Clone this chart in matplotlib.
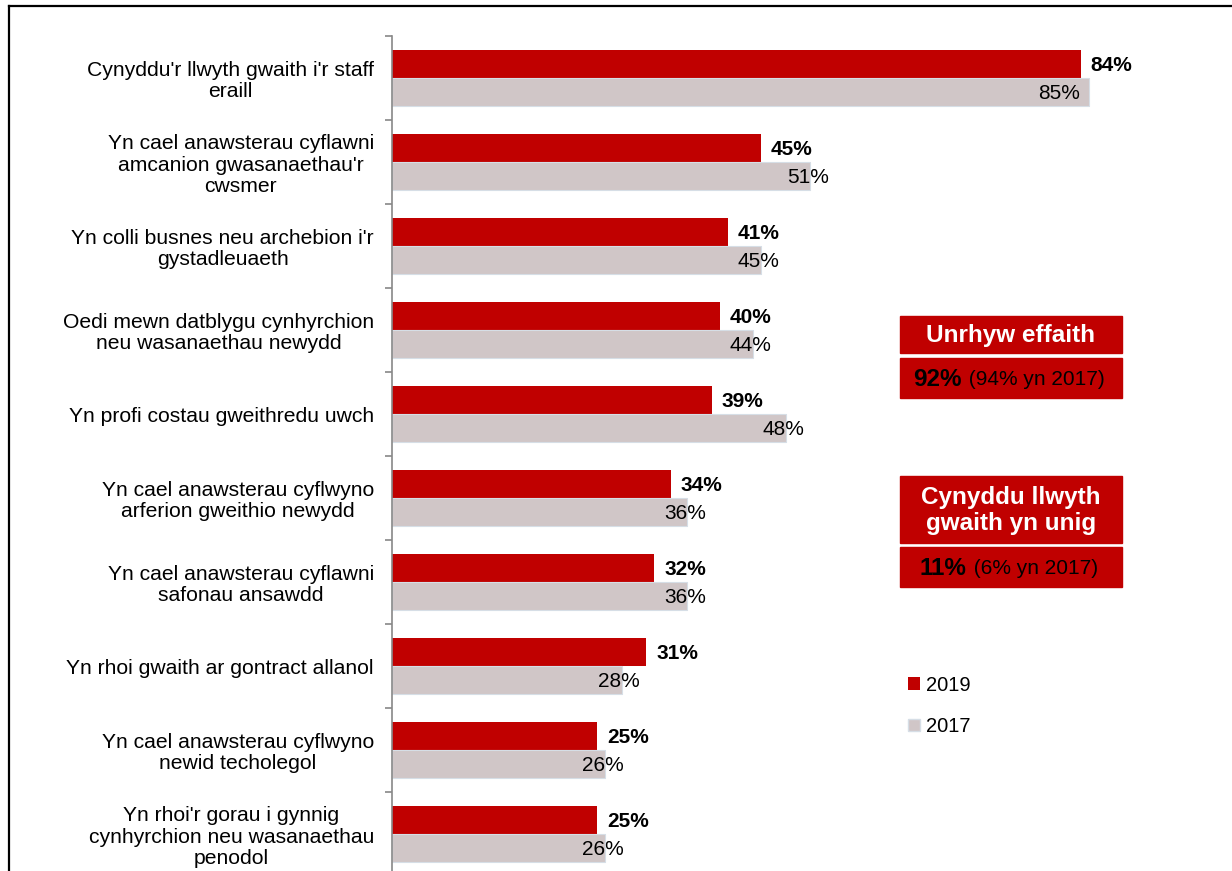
import matplotlib
matplotlib.use('Agg')
import matplotlib.pyplot as plt
from matplotlib.patches import Rectangle, Patch
from matplotlib.lines import Line2D

plt.rcParams['font.family'] = ['Liberation Sans', 'DejaVu Sans']

categories = [
    "Cynyddu'r llwyth gwaith i'r staff\neraill",
    "Yn cael anawsterau cyflawni\namcanion gwasanaethau'r\ncwsmer",
    "Yn colli busnes neu archebion i'r\ngystadleuaeth",
    "Oedi mewn datblygu cynhyrchion\nneu wasanaethau newydd",
    "Yn profi costau gweithredu uwch",
    "Yn cael anawsterau cyflwyno\narferion gweithio newydd",
    "Yn cael anawsterau cyflawni\nsafonau ansawdd",
    "Yn rhoi gwaith ar gontract allanol",
    "Yn cael anawsterau cyflwyno\nnewid techolegol",
    "Yn rhoi'r gorau i gynnig\ncynhyrchion neu wasanaethau\npenodol",
]
vals_2019 = [84, 45, 41, 40, 39, 34, 32, 31, 25, 25]
vals_2017 = [85, 51, 45, 44, 48, 36, 36, 28, 26, 26]
series_names = ['2019', '2017']

any_impact = ('Unrhyw effaith', '92%', '(94% yn 2017)')
workload_only = ('Cynyddu llwyth\ngwaith yn unig', '11%', '(6% yn 2017)')

colors = {
    'red': '#C00000',
    'grey': '#D0C6C7',
    'grey_edge': '#D6DEE6',
    'spine': '#888888',
}

W, H = 1232, 871
dpi = 100
fig = plt.figure(figsize=(W / dpi, H / dpi), dpi=dpi)

# main bar axes, positioned in pixels
px_per_unit = 8.2
xmax = 90
left, top = 392, 36
band = 84
n = len(categories)
ax = fig.add_axes([left / W, 1 - (top + band * n) / H,
                   xmax * px_per_unit / W, band * n / H])

pos = list(range(n))
bh = 1 / 3
ax.barh([p - bh / 2 for p in pos], vals_2019, height=bh, color=colors['red'],
        label=series_names[0])
ax.barh([p + bh / 2 for p in pos], vals_2017, height=bh, color=colors['grey'],
        edgecolor=colors['grey_edge'], linewidth=0.8, label=series_names[1])

for p, v in zip(pos, vals_2019):
    ax.text(v + 1.2, p - bh / 2 + 0.02, f'{v}%', va='center', ha='left',
            fontsize=15, fontweight='bold', color='black')
for p, v in zip(pos, vals_2017):
    ax.text(min(v - 0.3, 81.3), p + bh / 2 + 0.02, f'{v}%', va='center',
            ha='center', fontsize=15, color='black')

ax.set_xlim(0, xmax)
ax.set_ylim(n - 0.5, -0.5)
for s in ['top', 'right', 'bottom']:
    ax.spines[s].set_visible(False)
ax.spines['left'].set_color(colors['spine'])
ax.spines['left'].set_linewidth(1.2)
ax.set_xticks([])

# tick marks between categories, labels at category centres
ax.set_yticks([p - 0.5 for p in range(n + 1)])
ax.set_yticklabels([])
ax.tick_params(axis='y', which='major', length=5, width=1.2,
               color=colors['spine'], direction='out')
ax.set_yticks(pos, minor=True)
ax.set_yticklabels(categories, minor=True, fontsize=15.2, multialignment='center',
                   linespacing=1.15)
ax.tick_params(axis='y', which='minor', length=0, pad=13)

# legend
handles = [Patch(facecolor=colors['red']),
           Patch(facecolor=colors['grey'], edgecolor=colors['grey_edge'])]
fig.legend(handles, series_names, loc='center left',
           bbox_to_anchor=(908 / W, 1 - 706 / H), frameon=False, fontsize=14.5,
           handlelength=0.6, handleheight=0.6, handletextpad=0.3,
           labelspacing=1.1, borderpad=0, borderaxespad=0)

# overlay in pixel coordinates for the frame and the summary boxes
ov = fig.add_axes([0, 0, 1, 1], zorder=-1)
ov.set_xlim(0, W)
ov.set_ylim(H, 0)
ov.axis('off')
ov.add_line(Line2D([8.5, W], [6, 6], color='black', lw=1.6))
ov.add_line(Line2D([9, 9], [6, H], color='black', lw=1.6))

top_ov = fig.add_axes([0, 0, 1, 1], zorder=5)
top_ov.set_xlim(0, W)
top_ov.set_ylim(H, 0)
top_ov.axis('off')

renderer = fig.canvas.get_renderer()


def summary_box(y0, y1, y2, y3, info):
    title, big, small = info
    x0, x1 = 900, 1122
    top_ov.add_patch(Rectangle((x0, y0), x1 - x0, y1 - y0, color=colors['red']))
    top_ov.add_patch(Rectangle((x0, y2), x1 - x0, y3 - y2, color=colors['red']))
    top_ov.text((x0 + x1) / 2, (y0 + y1) / 2 + 1, title, ha='center', va='center',
                color='white', fontsize=17.5, fontweight='bold', linespacing=1.15)
    t1 = top_ov.text(0, 0, big, fontsize=17.5, fontweight='bold', color='black')
    t2 = top_ov.text(0, 0, ' ' + small, fontsize=15, color='black')
    w1 = t1.get_window_extent(renderer).width
    w2 = t2.get_window_extent(renderer).width
    start = (x0 + x1) / 2 - (w1 + w2) / 2 - 3
    yc = (y2 + y3) / 2 + 1
    t1.set_position((start, yc))
    t1.set_va('center')
    t2.set_position((start + w1 + 2, yc))
    t2.set_va('center')


summary_box(316, 353, 358, 398, any_impact)
summary_box(476, 543, 547, 587, workload_only)

fig.savefig('out.png', dpi=dpi)
